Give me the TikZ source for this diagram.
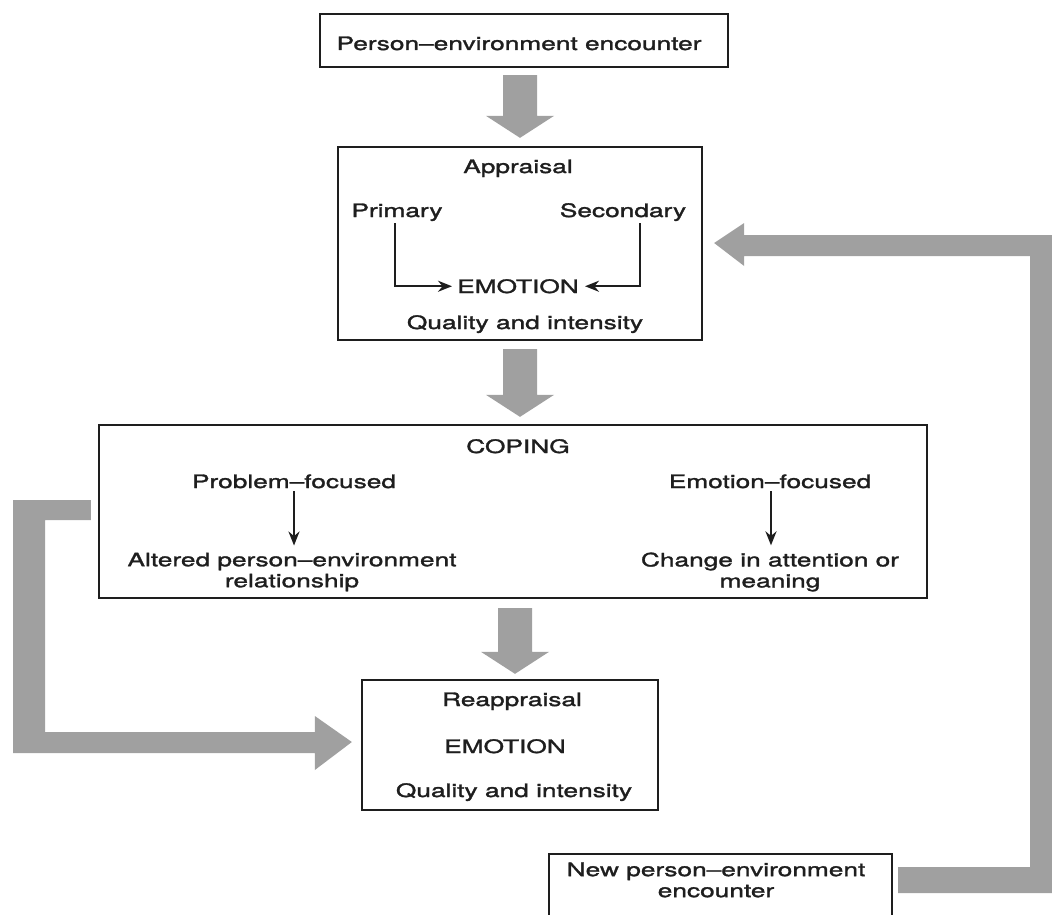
\documentclass[tikz,border=0pt]{standalone}
\usepackage{fontspec}
\setmainfont{TeX Gyre Heros}[FakeStretch=1.42,FakeBold=1.6]
\usetikzlibrary{arrows.meta,calc}
\definecolor{ink}{HTML}{1E1E1E}
\definecolor{fatgray}{HTML}{A0A0A0}
\begin{document}
\begin{tikzpicture}[x=1pt,y=-1pt,
  box/.style={draw=ink, line width=2.3pt, inner sep=0pt, fill=none},
  txt/.style={text=ink, font=\fontsize{18.5}{21}\selectfont, inner sep=0pt, align=center},
  thinarrow/.style={draw=ink, line width=2.4pt, -{Stealth[length=14pt,width=11pt]}},
  fatarrow/.style={fill=fatgray, draw=none}]
\useasboundingbox (0,0) rectangle (1052,915);
\fill[white] (0,0) rectangle (1052,915);

% boxes
\node[box, minimum width=408pt, minimum height=53pt]  (b1) at (524,40.5) {};
\node[box, minimum width=364pt, minimum height=193pt] (b2) at (520,243.5) {};
\node[box, minimum width=828pt, minimum height=173pt] (b3) at (513,511.5) {};
\node[box, minimum width=296pt, minimum height=130pt] (b4) at (510,745) {};
\node[box, minimum width=343pt, minimum height=81pt]  (b5) at (720.5,894.5) {};

% texts
\node[txt, anchor=base] (t1)   at (519,50)  {Person--environment encounter};
\node[txt, anchor=base] (appr) at (518,173) {Appraisal};
\node[txt, anchor=base] (prim) at (397,217) {Primary};
\node[txt, anchor=base] (sec)  at (623,217) {Secondary};
\node[txt, anchor=base] (emo)  at (518,293) {EMOTION};
\node[txt, anchor=base] (qi1)  at (525,329) {Quality and intensity};
\node[txt, anchor=base] (cop)  at (518,453) {COPING};
\node[txt, anchor=base] (pf)   at (294,488) {Problem--focused};
\node[txt]              (alt)  at (292,572) {Altered person--environment\\relationship};
\node[txt, anchor=base] (ef)   at (770,488) {Emotion--focused};
\node[txt]              (chg)  at (770,572) {Change in attention or\\meaning};
\node[txt, anchor=base] (reap) at (512,706) {Reappraisal};
\node[txt, anchor=base] (emo2) at (505,753) {EMOTION};
\node[txt, anchor=base] (qi2)  at (514,797) {Quality and intensity};
\node[txt]              (new)  at (716,880) {New person--environment\\encounter};

% thin arrows
\draw[thinarrow, shorten <=2pt, shorten >=5pt] ([xshift=-2pt]prim.south) |- (emo.west);
\draw[thinarrow, shorten <=2pt, shorten >=6pt] ([xshift=17pt]sec.south) |- (emo.east);
\draw[thinarrow, shorten <=3pt, shorten >=7pt] (pf.south) -- (pf.south |- alt.north);
\draw[thinarrow, shorten <=3pt, shorten >=7pt] ([xshift=1pt]ef.south) -- ([xshift=1pt]ef.south |- chg.north);

% fat down arrows
\newcommand{\fatdown}[2]{%
  \fill[fatarrow] ($(#1)+(-17,0)$) -- ($(#2)+(-17,-22)$) -- ($(#2)+(-34,-22)$) -- (#2)
    -- ($(#2)+(34,-22)$) -- ($(#2)+(17,-22)$) -- ($(#1)+(17,0)$) -- cycle;}
\coordinate (a1s) at ($(b2.north|-b1.south)+(0,7)$);
\coordinate (a1t) at ($(b2.north)+(0,-8)$);
\coordinate (a2s) at ($(b2.south)+(0,8)$);
\coordinate (a2t) at ($(b2.south|-b3.north)+(0,-7)$);
\coordinate (a3s) at ($(b4.north|-b3.south)+(5,9)$);
\coordinate (a3t) at ($(b4.north)+(5,-5)$);
\fatdown{a1s}{a1t}
\fatdown{a2s}{a2t}
\fatdown{a3s}{a3t}

% left feedback loop: COPING -> Reappraisal
\coordinate (ls) at ($(b3.west)+(-7,-1.5)$);
\coordinate (lt) at ($(b4.west)+(-9,-3)$);
\fill[fatarrow] ($(ls)+(0,-10)$) -- (13,500) -- (13,753) -- ($(lt)+(-37,11)$)
  -- ($(lt)+(-37,28)$) -- (lt) -- ($(lt)+(-37,-26)$) -- ($(lt)+(-37,-10)$)
  -- (45,732) -- (45,520) -- ($(ls)+(0,10)$) -- cycle;

% right feedback loop: New encounter -> Appraisal
\coordinate (rs) at ($(b5.east)+(5,-14.5)$);
\coordinate (rt) at ($(b2.east)+(11,-0.5)$);
\fill[fatarrow] ($(rs)+(0,-13)$) -- (1030,867) -- (1030,256) -- ($(rt)+(30,13)$)
  -- ($(rt)+(30,23)$) -- (rt) -- ($(rt)+(30,-20)$) -- ($(rt)+(30,-8)$)
  -- (1056,235) -- (1056,893) -- ($(rs)+(0,13)$) -- cycle;
\end{tikzpicture}
\end{document}
